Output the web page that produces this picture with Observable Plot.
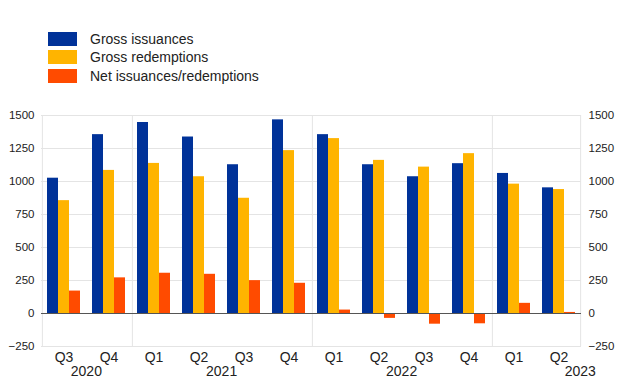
<!DOCTYPE html>
<html><head><meta charset="utf-8">
<script src="https://cdn.jsdelivr.net/npm/d3@7"></script>
<script src="https://cdn.jsdelivr.net/npm/@observablehq/plot@0.6"></script>
<style>
body{margin:0;background:#fff;font-family:"Liberation Sans",Arial,sans-serif;}
#legend{height:95px;box-sizing:border-box;padding-top:30px;padding-left:48px;}
.row{display:flex;align-items:center;height:18.3px;font-size:14px;color:#222;}
.sw{width:29px;height:14px;margin-right:13px;flex:none;}
</style></head><body>
<div id="legend"></div><div id="chart"></div>
<script>
const quarters = ["Q3","Q4","Q1","Q2","Q3","Q4","Q1","Q2","Q3","Q4","Q1","Q2"];
const years = [2020,2020,2021,2021,2021,2021,2022,2022,2022,2022,2023,2023];
const seriesNames = ["Gross issuances","Gross redemptions","Net issuances/redemptions"];
const seriesColors = ["#003299","#ffb400","#ff4b00"];
const grossIssuances   = [1025,1355,1447,1337,1127,1467,1355,1127,1036,1135,1061,952];
const grossRedemptions = [855,1084,1137,1036,873,1234,1325,1160,1109,1211,980,939];
const netIssuances     = [170,270,305,297,249,229,26,-37,-81,-78,77,8];
const yTicks = [-250,0,250,500,750,1000,1250,1500];
const yearLabels = ["2020","2021","2022","2023"];

const keys = quarters.map((q,i) => years[i] + " " + q);
const values = [grossIssuances, grossRedemptions, netIssuances];
const data = [];
keys.forEach((k,i) => seriesNames.forEach((s,j) => data.push({key:k, series:s, value:values[j][i]})));

// legend
const legend = document.getElementById("legend");
seriesNames.forEach((s,i) => {
  const r = document.createElement("div"); r.className = "row";
  r.innerHTML = `<div class="sw" style="background:${seriesColors[i]}"></div><span>${s}</span>`;
  legend.appendChild(r);
});

const W = 621, H = 293, ml = 39, mr = 39, mt = 20, mb = 42;
const pOuter = 0.385;
const step = (W - ml - mr) / keys.length;
const bw = step / (3 + 2 * pOuter);
const edge = pOuter * bw + bw / 2;
const grid = "#e4e4e4";

const leftEdges = ["2020 Q3","2021 Q1","2022 Q1","2023 Q1"].map(k => ({key:k}));
const rightEdges = [{key:"2023 Q2"}];
// year label anchors: facet key and offset in quarter steps
const yearPos = [
  {key:"2020 Q4", label:yearLabels[0], off:-0.5},
  {key:"2021 Q2", label:yearLabels[1], off:0.5},
  {key:"2022 Q2", label:yearLabels[2], off:0.5},
  {key:"2023 Q2", label:yearLabels[3], off:0.47}
];
const yearMarks = yearPos.map(d =>
  Plot.text([d], {fx: "key", y: () => -250, text: "label", fontSize: 14, dy: 25, dx: d.off * step, lineAnchor: "middle"})
);

const chart = Plot.plot({
  width: W, height: H,
  marginLeft: ml, marginRight: mr, marginTop: mt, marginBottom: mb,
  style: {fontFamily: '"Liberation Sans", Arial, sans-serif', color: "#222", background: "#fff"},
  fx: {domain: keys, padding: 0, label: null},
  x: {domain: seriesNames, paddingInner: 0, paddingOuter: pOuter, axis: null},
  y: {domain: [-250, 1500], label: null},
  color: {domain: seriesNames, range: seriesColors},
  marks: [
    Plot.ruleY(yTicks, {y: d => d, stroke: grid, strokeWidth: 1}),
    Plot.ruleX(leftEdges, {fx: "key", x: () => seriesNames[0], dx: -edge, stroke: grid}),
    Plot.ruleX(rightEdges, {fx: "key", x: () => seriesNames[2], dx: edge, stroke: grid}),
    Plot.barY(data, {fx: "key", x: "series", y: "value", fill: "series"}),
    Plot.ruleY([0], {stroke: "#555", strokeWidth: 1}),
    Plot.axisY({anchor: "left", ticks: yTicks, tickFormat: d3.format("d"), tickSize: 0, tickPadding: 7, fontSize: 11.5, label: null}),
    Plot.axisY({anchor: "right", ticks: yTicks, tickFormat: d3.format("d"), tickSize: 0, tickPadding: 7, fontSize: 11.5, label: null}),
    Plot.axisFx({anchor: "bottom", tickSize: 0, tickPadding: 6, fontSize: 14, tickFormat: k => k.slice(5), label: null}),
    ...yearMarks
  ]
});
document.getElementById("chart").appendChild(chart);
</script>
</body></html>
